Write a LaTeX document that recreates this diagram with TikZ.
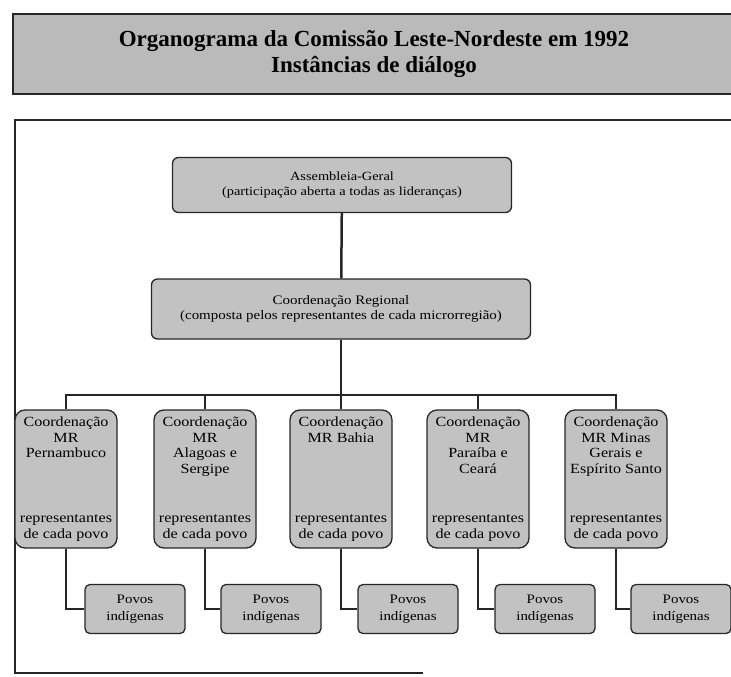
\documentclass[tikz,border=0pt]{standalone}
\usepackage{fontspec}
\setmainfont{Liberation Serif}
\newfontfamily\orgfont[FakeStretch=1.15]{Liberation Serif}
\usepackage{xcolor}
\usetikzlibrary{positioning}
\definecolor{boxgray}{HTML}{C2C2C2}
\definecolor{titlegray}{HTML}{BABABA}
\definecolor{linegray}{HTML}{262626}

\newcommand{\mrtext}[1]{\parbox[c][124pt][t]{100pt}{\centering #1\par\vfill representantes\\de cada povo}}

\begin{document}
\begin{tikzpicture}[x=1pt, y=-1pt,
    titlebox/.style={draw=linegray, line width=1.4pt, fill=titlegray, minimum width=722pt,
                     minimum height=80pt, align=center, font=\bfseries\fontsize{23}{26}\selectfont},
    headbox/.style={draw=linegray, line width=1.3pt, rounded corners=6pt, fill=boxgray,
                    align=center, inner sep=2pt, font=\orgfont\fontsize{13}{15.5}\selectfont},
    mrbox/.style={draw=linegray, line width=1.3pt, rounded corners=10pt, fill=boxgray,
                  minimum width=102pt, minimum height=138pt, inner sep=0pt,
                  font=\orgfont\fontsize{14}{15.5}\selectfont},
    povobox/.style={draw=linegray, line width=1.3pt, rounded corners=5pt, fill=boxgray,
                    minimum width=100pt, minimum height=49pt, align=center, inner sep=1pt,
                    font=\orgfont\fontsize{13}{17}\selectfont},
    link/.style={draw=linegray, line width=2.5pt},
    frame/.style={draw=linegray, line width=1.8pt},
]
\useasboundingbox (0,0) rectangle (731,677);

\node[titlebox] (title) at (374,54) {Organograma da Comissão Leste-Nordeste em 1992\\Instâncias de diálogo};
\draw[frame] (745,120) -- (15,120) -- (15,673) -- (423,673);

\node[headbox, minimum width=339pt, minimum height=55pt, font=\orgfont\fontsize{12.5}{15.5}\selectfont] (assembleia) at (342,185) {Assembleia-Geral\\(participação aberta a todas as lideranças)};
\node[headbox, minimum width=379pt, minimum height=60pt] (regional) at (341,309) {Coordenação Regional\\(composta pelos representantes de cada microrregião)};

\node[mrbox] (mr1) at (66,479) {\mrtext{Coordenação\\MR\\Pernambuco}};
\node[mrbox] (mr2) at (205,479) {\mrtext{Coordenação\\MR\\Alagoas e\\Sergipe}};
\node[mrbox] (mr3) at (341,479) {\mrtext{Coordenação\\MR Bahia}};
\node[mrbox] (mr4) at (478,479) {\mrtext{Coordenação\\MR\\Paraíba e\\Ceará}};
\node[mrbox] (mr5) at (616,479) {\mrtext{Coordenação\\MR Minas\\Gerais e\\Espírito Santo}};

\node[povobox] (pv1) at (135,609) {Povos\\indígenas};
\node[povobox] (pv2) at (271,609) {Povos\\indígenas};
\node[povobox] (pv3) at (408,609) {Povos\\indígenas};
\node[povobox] (pv4) at (545,609) {Povos\\indígenas};
\node[povobox] (pv5) at (681,609) {Povos\\indígenas};

\coordinate (bar) at (341,395);

\draw[link] (assembleia) -- (regional);
\draw[link] (regional) -- (bar);
\draw[link] (mr1.north) |- (bar) -| (mr5.north);
\draw[link] (mr2.north) -- (mr2.north |- bar);
\draw[link] (mr3.north) -- (mr3.north |- bar);
\draw[link] (mr4.north) -- (mr4.north |- bar);

\draw[link] (mr1.south) |- (pv1.west);
\draw[link] (mr2.south) |- (pv2.west);
\draw[link] (mr3.south) |- (pv3.west);
\draw[link] (mr4.south) |- (pv4.west);
\draw[link] (mr5.south) |- (pv5.west);
\end{tikzpicture}
\end{document}
